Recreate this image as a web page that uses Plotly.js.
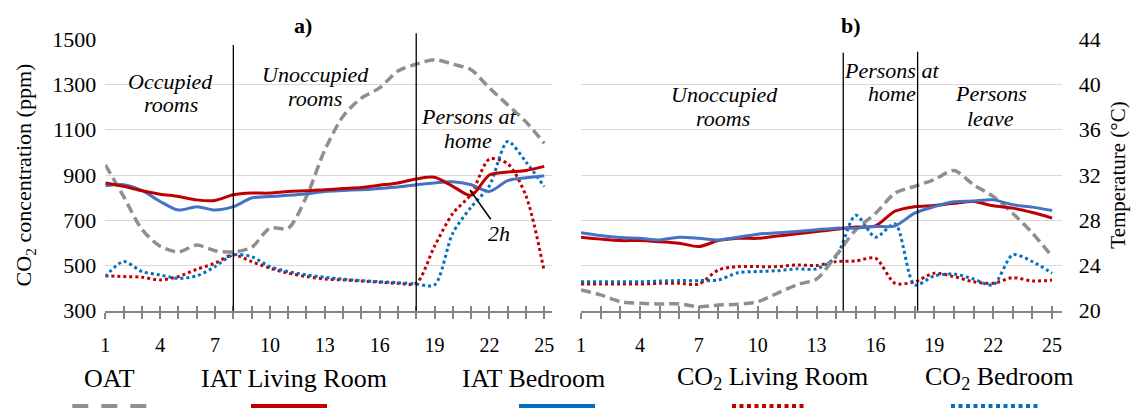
<!DOCTYPE html>
<html>
<head>
<meta charset="utf-8">
<script src="https://cdn.plot.ly/plotly-3.0.1.min.js"></script>
<style>
html,body{margin:0;padding:0;background:#fff;}
#chart{width:1133px;height:408px;}
</style>
</head>
<body>
<div id="chart"></div>
<script>
// ---------------- DATA ----------------
const hours = [1,2,3,4,5,6,7,8,9,10,11,12,13,14,15,16,17,18,19,20,21,22,23,24,25];
const xTickVals = [1,4,7,10,13,16,19,22,25];

// Panel a) temperatures (°C)
const oatA     = [32.9,30.1,27.2,25.7,25.2,25.8,25.3,25.2,25.6,27.3,27.3,30.1,34.2,37.2,38.8,39.7,41.2,41.8,42.2,41.8,41.3,39.7,38.2,36.7,34.8];
const iatLivA  = [31.3,31.0,30.6,30.3,30.1,29.8,29.75,30.25,30.4,30.4,30.55,30.6,30.7,30.8,30.9,31.1,31.3,31.65,31.8,31.0,30.2,32.0,32.26,32.4,32.76];
const iatBedA  = [31.05,31.14,30.63,29.66,28.9,29.2,28.9,29.2,29.96,30.1,30.2,30.34,30.55,30.63,30.7,30.8,30.93,31.14,31.3,31.4,31.14,30.55,31.5,31.75,31.93];
// Panel a) CO2 (ppm)
const co2LivA  = [454,451,448,436,451,483,510,547,517,488,466,451,440,436,431,426,421,421,585,730,815,970,950,808,473];
const co2BedA  = [451,517,473,458,443,454,495,547,539,495,473,458,448,439,433,428,424,418,414,643,758,852,1048,958,849];

// Panel b) temperatures (°C)
const oatB     = [21.83,21.4,20.8,20.65,20.6,20.6,20.35,20.5,20.57,20.8,21.54,22.3,22.8,24.9,27.15,28.6,30.4,31.0,31.6,32.4,31.14,30.1,28.6,26.86,24.8];
const iatLivB  = [26.5,26.33,26.2,26.2,26.1,25.97,25.67,26.2,26.4,26.4,26.6,26.8,27.0,27.2,27.4,27.5,28.8,29.2,29.3,29.5,29.66,29.28,29.07,28.68,28.19];
const iatBedB  = [26.9,26.65,26.47,26.4,26.26,26.5,26.41,26.26,26.5,26.77,26.9,27.0,27.15,27.3,27.3,27.44,27.5,28.63,29.2,29.63,29.7,29.8,29.37,29.16,28.86];
// Panel b) CO2 (ppm)
const co2LivB  = [418,418,418,418,421,421,418,480,495,495,495,502,500,517,520,532,421,428,466,451,428,421,446,431,436];
const co2BedB  = [428,428,428,428,431,433,433,436,468,473,477,485,485,539,722,625,684,414,454,462,440,414,547,517,466];

// Phase boundaries (hour)
const phaseA = [8, 18];
const phaseB = [14.36, 18.15];

const seriesNames = ['OAT','IAT Living Room','IAT Bedroom','CO<sub>2</sub> Living Room','CO<sub>2</sub> Bedroom'];

// ---------------- STYLE / LAYOUT ----------------
const W = 1133, H = 408;
const PX = v => v / W;
const PY = v => 1 - v / H;
const FONT = 'Liberation Serif';
const cGrey = '#8f8f8f', cRed = '#c00000', cBlue = '#4472c4', cBlue2 = '#0070c0';
const axisGrey = '#858585';
const yDom = [PY(310.7), PY(39.3)];

function mkLine(x, y, xa, ya, color, width, dash) {
  return {x: x, y: y, xaxis: xa, yaxis: ya, type: 'scatter', mode: 'lines',
    line: {color: color, width: width, dash: dash || 'solid', shape: 'spline', smoothing: 0.8},
    showlegend: false, hoverinfo: 'skip'};
}

const DASH = '10px,5px';
const DOT = '3px,3px';
const traces = [
  mkLine(hours, oatA, 'x', 'y2', cGrey, 3.5, DASH),
  mkLine(hours, co2LivA, 'x', 'y', cRed, 3, DOT),
  mkLine(hours, co2BedA, 'x', 'y', cBlue2, 3, DOT),
  mkLine(hours, iatBedA, 'x', 'y2', cBlue, 3, 'solid'),
  mkLine(hours, iatLivA, 'x', 'y2', cRed, 3, 'solid'),
  mkLine(hours, oatB, 'x2', 'y4', cGrey, 3.5, DASH),
  mkLine(hours, co2LivB, 'x2', 'y3', cRed, 3, DOT),
  mkLine(hours, co2BedB, 'x2', 'y3', cBlue2, 3, DOT),
  mkLine(hours, iatLivB, 'x2', 'y4', cRed, 3, 'solid'),
  mkLine(hours, iatBedB, 'x2', 'y4', cBlue, 3, 'solid'),
  {x: [], y: [], xaxis: 'x3', yaxis: 'y', type: 'scatter', showlegend: false},
  {x: [], y: [], xaxis: 'x4', yaxis: 'y3', type: 'scatter', showlegend: false}
];

const tickFontX = {family: FONT, size: 20, color: '#000'};
function xAxis(domain, range, anchor, overlay) {
  const a = {
    domain: domain, range: range, anchor: anchor,
    tickmode: 'array', tickvals: overlay ? hours : xTickVals,
    ticks: overlay ? 'inside' : 'outside', ticklen: overlay ? 5 : 6, tickwidth: 1.5, tickcolor: axisGrey,
    showline: !overlay, linecolor: axisGrey, linewidth: 2,
    showgrid: false, zeroline: false, fixedrange: true,
    showticklabels: !overlay, tickfont: tickFontX, ticklabelstandoff: 9
  };
  if (!overlay) a.minor = {tickmode: 'array', tickvals: hours, ticks: 'outside', ticklen: 6, tickwidth: 1.5, tickcolor: axisGrey, showgrid: false};
  return a;
}

const xa = xAxis([PX(105.3), PX(552.3)], [1, 25.44], 'y', false);
const xb = xAxis([PX(581), PX(1061.7)], [1, 25.49], 'y3', false);
const xa3 = Object.assign(xAxis([PX(105.3), PX(552.3)], [1, 25.44], 'y', true), {overlaying: 'x'});
const xb4 = Object.assign(xAxis([PX(581), PX(1061.7)], [1, 25.49], 'y3', true), {overlaying: 'x2'});

const shapes = [];
phaseA.forEach((h, i) => shapes.push({type: 'line', xref: 'x', yref: 'paper', x0: h, x1: h,
  y0: PY(310.7), y1: PY(i === 0 ? 45 : 33.3), line: {color: '#000', width: 1.3}}));
phaseB.forEach((h, i) => shapes.push({type: 'line', xref: 'x2', yref: 'paper', x0: h, x1: h,
  y0: PY(310.7), y1: PY(i === 0 ? 52.7 : 51.7), line: {color: '#000', width: 1.3}}));
shapes.push({type: 'line', xref: 'paper', yref: 'paper', x0: PX(470), y0: PY(190), x1: PX(490.7), y1: PY(219.3),
  line: {color: '#000', width: 1.5}});
const legY = PY(406);
const legSw = [
  {x0: 72.3, x1: 147, color: cGrey, dash: '16px,13px'},
  {x0: 251, x1: 327, color: cRed, dash: 'solid'},
  {x0: 519, x1: 595, color: cBlue2, dash: 'solid'},
  {x0: 732, x1: 807, color: cRed, dash: '4px,3.5px'},
  {x0: 951, x1: 1038, color: cBlue2, dash: '4px,3.5px'}
];
legSw.forEach(s => shapes.push({type: 'line', xref: 'paper', yref: 'paper', x0: PX(s.x0), x1: PX(s.x1), y0: legY, y1: legY,
  line: {color: s.color, width: 4, dash: s.dash}}));

const annotations = [];
function txt(t, x, y, size) {
  annotations.push({text: t, xref: 'paper', yref: 'paper', x: PX(x), y: PY(y),
    xanchor: 'center', yanchor: 'middle', showarrow: false,
    font: {family: FONT, size: size, color: '#000'}});
}
const IT = s => '<i>' + s + '</i>';
txt('<b>a)</b>', 303, 25, 22);
txt('<b>b)</b>', 851, 25, 22);
txt(IT('Occupied'), 170.5, 81.4, 22);
txt(IT('rooms'), 170.5, 105, 22);
txt(IT('Unoccupied'), 315.8, 74, 22);
txt(IT('rooms'), 315, 98.4, 22);
txt(IT('Persons at'), 468, 116.7, 22);
txt(IT('home'), 467.5, 140, 22);
txt(IT('2h'), 499, 233.4, 22);
txt(IT('Unoccupied'), 724, 94.4, 22);
txt(IT('rooms'), 722.5, 118.4, 22);
txt(IT('Persons at'), 891.7, 70, 22);
txt(IT('home'), 891.7, 93.4, 22);
txt(IT('Persons'), 990.8, 93.4, 22);
txt(IT('leave'), 990.5, 118.4, 22);
const legX = [109.7, 294, 533, 772.5, 999];
seriesNames.forEach((n, i) => txt(n, legX[i], 378, 26));

const gridY = {showgrid: true, gridcolor: '#d9d9d9', gridwidth: 1, zeroline: false, fixedrange: true, showline: false, ticks: ''};
const layout = {
  width: W, height: H,
  margin: {l: 0, r: 0, t: 0, b: 0, pad: 0},
  paper_bgcolor: '#fff', plot_bgcolor: 'rgba(0,0,0,0)',
  showlegend: false,
  font: {family: FONT, size: 20, color: '#000'},
  xaxis: xa, xaxis2: xb, xaxis3: xa3, xaxis4: xb4,
  yaxis: Object.assign({}, gridY, {domain: yDom, anchor: 'x', range: [300, 1500], dtick: 200, tick0: 300,
    tickfont: {family: FONT, size: 22, color: '#000'}, ticklabelstandoff: 8,
    title: {text: 'CO<sub>2</sub> concentration (ppm)', font: {family: FONT, size: 22, color: '#000'}, standoff: 14}}),
  yaxis2: {domain: yDom, anchor: 'x', overlaying: 'y', side: 'right', range: [20, 44], visible: false, fixedrange: true},
  yaxis3: Object.assign({}, gridY, {domain: yDom, anchor: 'x2', range: [300, 1500], dtick: 200, tick0: 300, showticklabels: false}),
  yaxis4: {domain: yDom, anchor: 'x2', overlaying: 'y3', side: 'right', range: [20, 44], dtick: 4, tick0: 20,
    showgrid: false, zeroline: false, showline: false, ticks: '', fixedrange: true,
    tickfont: {family: FONT, size: 22, color: '#000'}, ticklabelstandoff: 16,
    title: {text: 'Temperature (°C)', font: {family: FONT, size: 21, color: '#000'}, standoff: 10}},
  shapes: shapes,
  annotations: annotations
};

Plotly.newPlot('chart', traces, layout, {displayModeBar: false});
</script>
</body>
</html>
